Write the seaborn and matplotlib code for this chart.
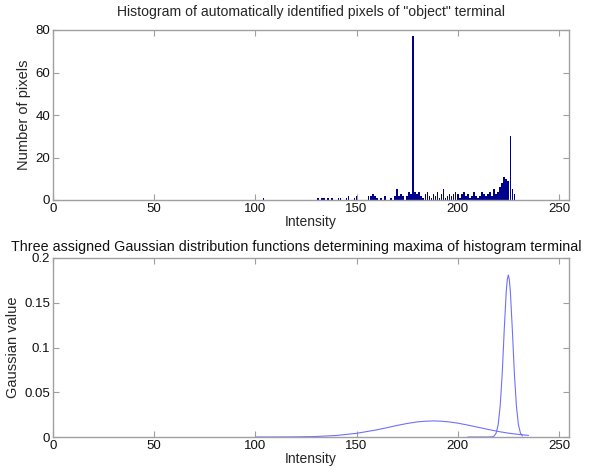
import numpy as np
import pandas as pd
import matplotlib
matplotlib.use("Agg")
import matplotlib.pyplot as plt
import seaborn as sns

# ---- data ----
hist_intensity = [104, 131, 133, 134, 136, 138, 141, 142, 145, 146, 149, 150,
                  156, 157, 158, 159, 160, 162, 164, 167, 169, 170, 171, 172, 173,
                  175, 176, 177, 178, 179, 180, 181, 182, 183, 184, 185, 186, 187,
                  188, 189, 190, 191, 192, 193, 194, 195, 196, 197, 198, 199, 200,
                  201, 202, 203, 204, 205, 206, 207, 208, 209, 210, 211, 212, 213,
                  214, 215, 216, 217, 218, 219, 220, 221, 222, 223, 224, 225, 226,
                  227, 228]
hist_counts = [1, 1, 1, 1, 1, 1, 1, 1, 1, 2, 1, 2,
               2, 2, 3, 2, 1, 1, 2, 1, 2, 5, 2, 3, 2,
               2, 4, 3, 77, 4, 3, 4, 2, 1, 3, 4, 2, 1,
               3, 2, 4, 1, 3, 5, 1, 2, 3, 2, 3, 4, 3,
               1, 3, 4, 2, 3, 1, 2, 4, 2, 1, 2, 4, 3,
               2, 3, 4, 2, 5, 3, 4, 6, 8, 11, 10, 9, 30,
               5, 3]

broad_x = [100, 110, 120, 130, 140, 150, 160, 165, 170, 175, 180, 184, 188,
           192, 196, 200, 205, 210, 215, 220, 225, 230, 235]
broad_y = [0.0000, 0.00002, 0.00015, 0.00056, 0.0017, 0.0041, 0.0080, 0.0104,
           0.0129, 0.0151, 0.0169, 0.0176, 0.0180, 0.0176, 0.0168, 0.0155,
           0.0133, 0.0109, 0.0085, 0.0062, 0.0043, 0.0029, 0.0018]

narrow_x = [205, 215, 217, 218, 219, 220, 221, 222, 223, 224, 224.5, 225,
            225.5, 226, 227, 228, 229, 230, 231, 232]
narrow_y = [0.0, 0.0, 0.0002, 0.0011, 0.0044, 0.0137, 0.035, 0.071, 0.120,
            0.163, 0.176, 0.181, 0.176, 0.163, 0.120, 0.071, 0.035, 0.0137,
            0.0044, 0.0011]

x_ticks = [0, 50, 100, 150, 200, 250]
top_y_ticks = [0, 20, 40, 60, 80]
bot_y_ticks = [0, 0.05, 0.1, 0.15, 0.2]
bot_y_labels = ["0", "0.05", "0.1", "0.15", "0.2"]

top_title = 'Histogram of automatically identified pixels of "object" terminal'
bot_title = "Three assigned Gaussian distribution functions determining maxima of histogram terminal"

# ---- style ----
sns.set_theme(style="white")
plt.rcParams['font.family'] = ['Liberation Sans', 'DejaVu Sans']
plt.rcParams['font.size'] = 10

fig = plt.figure(figsize=(5.9, 4.72), dpi=100)
ax1 = fig.add_axes([53/590, 1-200/472, (569-53)/590, 170/472])
ax2 = fig.add_axes([53/590, 1-437/472, (569-53)/590, 179/472])

hdf = pd.DataFrame({"Intensity": hist_intensity, "count": hist_counts})
sns.histplot(data=hdf, x="Intensity", weights="count", discrete=True, shrink=0.8,
             color="#00008f", linewidth=0, alpha=1.0, ax=ax1)

sns.lineplot(x=broad_x, y=broad_y, color="#7070ff", linewidth=0.8, ax=ax2)
sns.lineplot(x=narrow_x, y=narrow_y, color="#7070ff", linewidth=0.8, ax=ax2)

for ax in (ax1, ax2):
    ax.set_xlim(0, 255)
    ax.set_xticks(x_ticks)
    ax.set_xticklabels([str(t) for t in x_ticks])
    for s in ax.spines.values():
        s.set_color("#a0a0a0")
        s.set_linewidth(1.0)
    ax.tick_params(direction="in", length=4, width=0.8, color="#a0a0a0",
                   top=True, right=True, bottom=True, left=True,
                   labelsize=9.5, labelcolor="#111111", pad=2)
    ax.set_xlabel("Intensity", fontsize=10, labelpad=0)

ax1.set_ylim(0, 80)
ax1.set_yticks(top_y_ticks)
ax1.set_ylabel("Number of pixels", fontsize=10.5, labelpad=3)
ax1.set_title(top_title, fontsize=10.1, pad=10)

ax2.set_ylim(0, 0.2)
ax2.set_yticks(bot_y_ticks)
ax2.set_yticklabels(bot_y_labels)
ax2.set_ylabel("Gaussian value", fontsize=10.5, labelpad=3)
fig.text(296/590, 1-247/472, bot_title, fontsize=10.3, ha="center", va="center",
         color="#111111")

fig.savefig("out.png", dpi=100, facecolor="white")
